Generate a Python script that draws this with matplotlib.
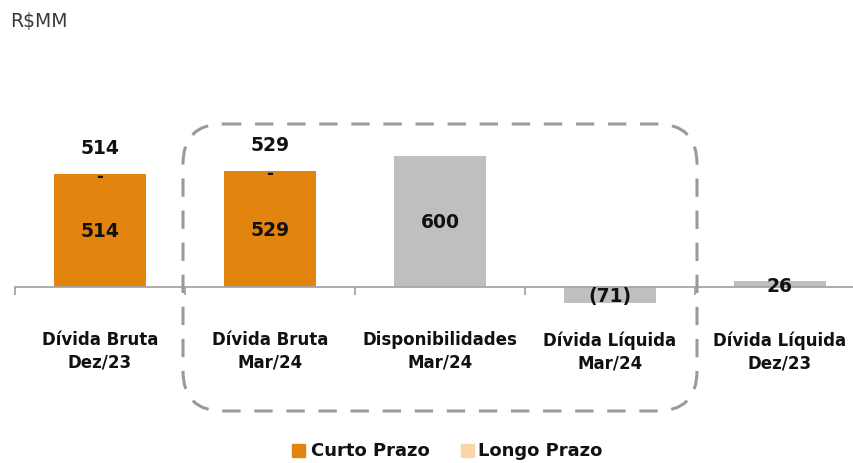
import matplotlib
matplotlib.use("Agg")
import matplotlib.pyplot as plt
from matplotlib.patches import FancyBboxPatch, Rectangle
import numpy as np

categories = ["Dívida Bruta\nDez/23", "Dívida Bruta\nMar/24", "Disponibilidades\nMar/24",
              "Dívida Líquida\nMar/24", "Dívida Líquida\nDez/23"]
curto_prazo = [514, 529]
longo_prazo = [0, 0]
outros = [None, None, 600, -71, 26]
legend_labels = ["Curto Prazo", "Longo Prazo"]
unit_label = "R$MM"

ORANGE = "#E3840F"
PEACH = "#F9D5A7"
GRAY = "#BFBFBF"
AXIS = "#A6A6A6"
TXT = "#111111"

plt.rcParams['font.family'] = ['DejaVu Sans']

W, H = 854, 464
fig = plt.figure(figsize=(W / 100, H / 100), dpi=100)

# main axes in pixel geometry
px_left, px_right, px_top, px_bot = 15, 854, 100, 320
ax = fig.add_axes([px_left / W, 1 - px_bot / H, (px_right - px_left) / W, (px_bot - px_top) / H])
ppu = 0.219  # pixels per unit
ax.patch.set_alpha(0)
for s in ["top", "right", "left"]:
    ax.spines[s].set_visible(False)
ax.spines["bottom"].set_position(("data", 0))
ax.spines["bottom"].set_color(AXIS)
ax.spines["bottom"].set_linewidth(1.3)
ax.set_yticks([])

x = np.arange(len(categories))
bw = 0.54

# stacked debt bars
xs = x[:len(curto_prazo)]
ax.bar(xs, curto_prazo, width=bw, color=ORANGE, zorder=2)
ax.bar(xs, longo_prazo, bottom=curto_prazo, width=bw, color=PEACH, zorder=2)
for xi, c, l in zip(xs, curto_prazo, longo_prazo):
    ax.text(xi, c / 2, f"{c:,}", ha="center", va="center", fontsize=13.5, fontweight="bold", color=TXT, zorder=3)
    ax.text(xi, c + l - 8, "-" if l == 0 else f"{l}", ha="center", va="center", fontsize=12, fontweight="bold", color=TXT, zorder=3)
    ax.text(xi, c + l + 122, f"{c + l:,}", ha="center", va="center", fontsize=13.5, fontweight="bold", color=TXT, zorder=3)

# gray bars
for xi, v in zip(x, outros):
    if v is None:
        continue
    ax.bar(xi, v, width=bw, color=GRAY, zorder=2)
    lab = f"({abs(v)})" if v < 0 else f"{v}"
    if abs(v) > 100:
        y = v / 2
    elif v < 0:
        y = -40
    else:
        y = 8
    ax.text(xi, y, lab, ha="center", va="center", fontsize=13.5, fontweight="bold", color=TXT, zorder=3)

# ticks
ax.set_xticks(x)
ax.set_xticklabels(categories, fontsize=12, fontweight="bold", color=TXT, linespacing=1.35)
ax.tick_params(axis="x", which="major", length=0, pad=31)
ax.set_xticks(np.arange(-0.5, len(categories) + 0.5, 1), minor=True)
ax.tick_params(axis="x", which="minor", length=6, color=AXIS, width=1.3, direction="out")
ax.set_xlim(-0.5, -0.5 + (px_right - px_left) / 170)
ax.set_ylim(-(px_bot - 288) / ppu, (288 - px_top) / ppu)

# overlay axes in pixel coordinates for annotations
ov = fig.add_axes([0, 0, 1, 1])
ov.set_xlim(0, W)
ov.set_ylim(H, 0)
ov.axis("off")
ov.patch.set_alpha(0)
r = 40
box = FancyBboxPatch((183 + r, 125 + r), 697 - 183 - 2 * r, 412 - 125 - 2 * r,
                     boxstyle=f"round,pad={r}", fill=False, edgecolor="#9A9A9A",
                     linewidth=2.2, linestyle=(0, (6, 4.5)), zorder=1)
ov.add_patch(box)
ov.text(10, 21, unit_label, ha="left", va="center", fontsize=13.5, color="#3A3A3A")

# legend
ov.add_patch(Rectangle((292, 445), 13, 13, color=ORANGE))
ov.text(311, 451, legend_labels[0], ha="left", va="center", fontsize=13, fontweight="bold", color=TXT)
ov.add_patch(Rectangle((461, 445), 13, 13, color=PEACH))
ov.text(478, 451, legend_labels[1], ha="left", va="center", fontsize=13, fontweight="bold", color=TXT)

fig.savefig("out.png", dpi=100)
